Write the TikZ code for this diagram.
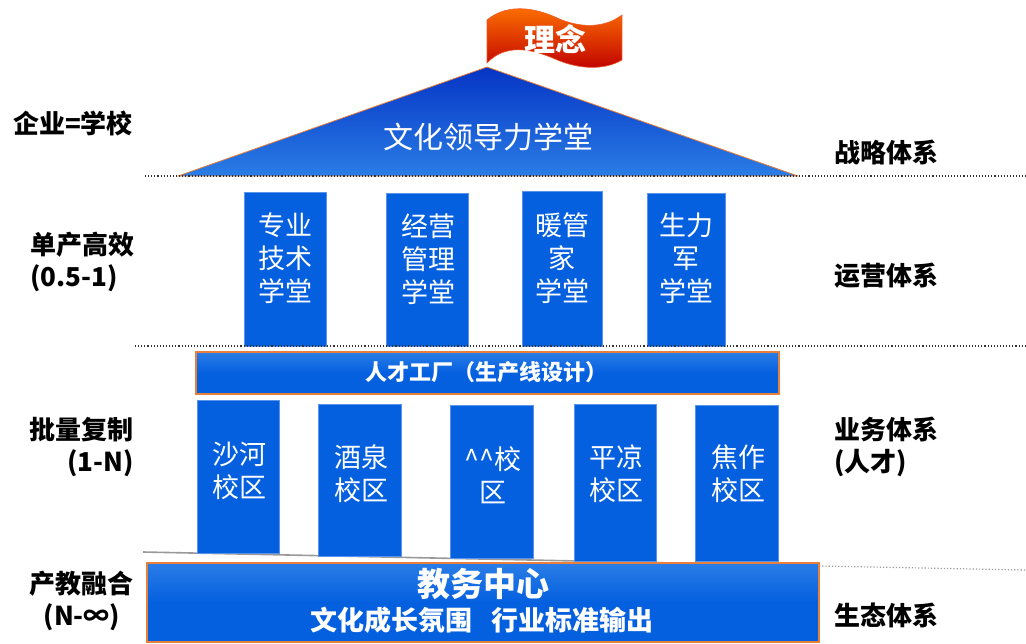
\documentclass[tikz,border=0pt]{standalone}
\usepackage{fontspec}
\setmainfont{Noto Sans CJK SC}
\usepackage{color}
\definecolor{blueA}{HTML}{0560E0}
\definecolor{blueB}{HTML}{2A7DE6}
\definecolor{blueC}{HTML}{0534C4}
\definecolor{edgeA}{HTML}{5A94EA}
\definecolor{edgeB}{HTML}{E8803C}
\tikzset{
  column/.style={rectangle,fill=blueA,draw=edgeA,line width=0.6pt,inner sep=0pt},
  banner/.style={rectangle,top color=blueB,bottom color=blueA,middle color=blueA,draw=edgeB,line width=1.2pt,inner sep=0pt},
  coltext/.style={text=white,align=center,inner sep=0pt,font=\fontsize{27}{33}\selectfont},
  sidetext/.style={text=black,inner sep=0pt,font=\fontsize{26}{32}\bfseries\selectfont},
  floor/.style={draw=black!80,line width=1.1pt,dotted},
}
\begin{document}
\begin{tikzpicture}[x=1pt,y=-1pt]
\useasboundingbox (0,0) rectangle (1026,643);
\coordinate (s1) at (145,176);
\coordinate (e1) at (1026,176);
\coordinate (s2) at (135,346);
\coordinate (e2) at (1026,346);
\coordinate (s3) at (143,552);
\coordinate (m3) at (819,566);
\coordinate (e3) at (1026,570);
\coordinate (top) at (487,67);
\coordinate (tl) at (178,176);
\coordinate (tr) at (798,176);
\path[draw=gray!80,line width=1.6pt](s3) -- (m3);
\path[draw=gray!80,line width=1.2pt,dotted](m3) -- (e3);
% roof and flag
\shade[top color=blueC,bottom color=blueB,draw=edgeB,line width=0.8pt] (top) -- (tr) -- (tl) -- cycle;
\shade[top color=orange!90!red,middle color=red,bottom color=red!75!black,draw=edgeB!70!red,line width=0.6pt]
  (487,20) .. controls (505,5) and (530,6) .. (555,17) .. controls (580,29) and (605,28) .. (622,15)
  -- (622,60) .. controls (605,70) and (580,70) .. (555,59) .. controls (530,48) and (505,44) .. (487,63) -- cycle;
\node[coltext,font=\fontsize{31}{34}\bfseries\selectfont] (idea) at (555,39) {理念};
\node[coltext,font=\fontsize{30}{34}\selectfont] (culture) at (488,137) {文化领导力学堂};
% upper columns
\node[column,minimum width=82pt,minimum height=154pt] (c1) at (285,269) {};
\node[column,minimum width=82pt,minimum height=153pt] (c2) at (427,269.5) {};
\node[column,minimum width=80pt,minimum height=155pt] (c3) at (562,268.5) {};
\node[column,minimum width=78pt,minimum height=153pt] (c4) at (686,269.5) {};
\node[coltext] (t1) at (285,258) {专业\\技术\\学堂};
\node[coltext] (t2) at (428,259) {经营\\管理\\学堂};
\node[coltext] (t3) at (562,258) {暖管\\家\\学堂};
\node[coltext] (t4) at (686,258) {生力\\军\\学堂};
% factory
\node[banner,minimum width=583pt,minimum height=42pt] (factory) at (487.5,373) {};
\node[coltext,font=\fontsize{22}{24}\bfseries\selectfont] (factorytext) at (486,372) {人才工厂（生产线设计）};
% lower columns
\node[column,minimum width=82pt,minimum height=153pt] (d1) at (238,476.5) {};
\node[column,minimum width=83pt,minimum height=152pt] (d2) at (359.5,480) {};
\node[column,minimum width=83pt,minimum height=153pt] (d3) at (491.5,481.5) {};
\node[column,minimum width=82pt,minimum height=157pt] (d4) at (615,482.5) {};
\node[column,minimum width=83pt,minimum height=156pt] (d5) at (736.5,483) {};
\node[coltext] (u1) at (239,471) {沙河\\校区};
\node[coltext] (u2) at (361,474) {酒泉\\校区};
\node[coltext] (u3) at (493,475) {\textasciicircum\textasciicircum 校\\区};
\node[coltext] (u4) at (616,474) {平凉\\校区};
\node[coltext] (u5) at (738,474) {焦作\\校区};
% base
\node[banner,minimum width=672pt,minimum height=79pt] (base) at (483,602.5) {};
\node[coltext,font=\fontsize{33}{36}\bfseries\selectfont] (basetop) at (483,584) {教务中心};
\node[coltext,font=\fontsize{27}{32}\bfseries\selectfont] (basebot) at (482,620) {文化成长氛围\hspace{19pt}行业标准输出};
% floors
\path[floor](s1) -- (e1);
\path[floor](s2) -- (e2);
% left labels
\node[sidetext] (l1) at (73,123) {企业=学校};
\node[sidetext,align=left,anchor=west] (l2) at (30,262) {单产高效\\(0.5-1)};
\node[sidetext,align=right,anchor=east] (l3) at (134,447) {批量复制\\(1-N)};
\node[sidetext,align=center] (l4) at (82,601) {产教融合\\(N-∞)};
% right labels
\node[sidetext] (r1) at (886,152) {战略体系};
\node[sidetext] (r2) at (886,276) {运营体系};
\node[sidetext,align=left,anchor=west] (r3) at (834,447) {业务体系\\(人才)};
\node[sidetext] (r4) at (886,615) {生态体系};
\end{tikzpicture}
\end{document}
